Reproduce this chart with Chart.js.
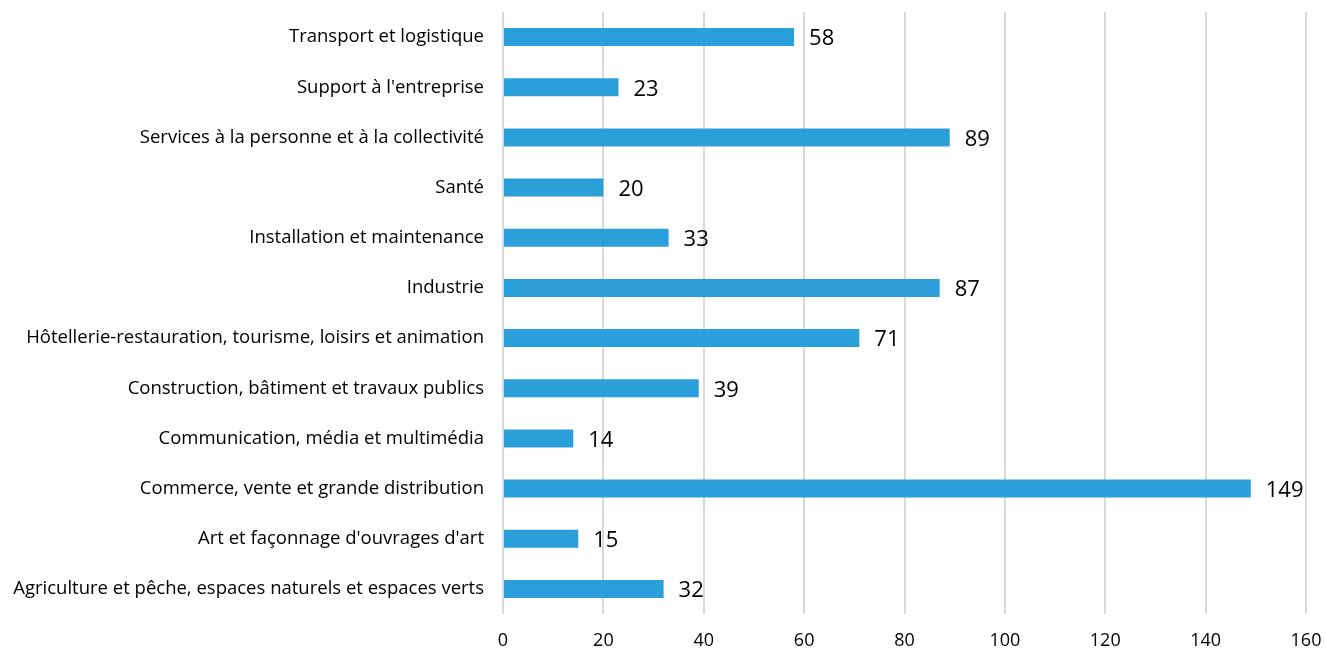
<!DOCTYPE html>
<html>
<head>
<meta charset="utf-8">
<script src="https://cdn.jsdelivr.net/npm/chart.js@4/dist/chart.umd.min.js"></script>
<style>
  html, body { margin: 0; padding: 0; background: #fff; }
  #wrap { width: 1326px; height: 650px; }
</style>
</head>
<body>
<div id="wrap"><canvas id="chart"></canvas></div>
<script>
// Categories, top to bottom as in the picture
const categories = [
    'Transport et logistique',
    "Support à l'entreprise",
    'Services à la personne et à la collectivité',
    'Santé',
    'Installation et maintenance',
    'Industrie',
    'Hôtellerie-restauration, tourisme, loisirs et animation',
    'Construction, bâtiment et travaux publics',
    'Communication, média et multimédia',
    'Commerce, vente et grande distribution',
    "Art et façonnage d'ouvrages d'art",
    'Agriculture et pêche, espaces naturels et espaces verts'
];
const values = [58, 23, 89, 20, 33, 87, 71, 39, 14, 149, 15, 32];
const xMin = 0;
const xMax = 160;
const xStep = 20;

const fontFamily = '"Open Sans", Lato, sans-serif';
const barColor = '#2B9FD9';

// pick a label size so the longest category is about as wide as in the picture
function fitSize(text, width) {
    const c = document.createElement('canvas').getContext('2d');
    c.font = '20px ' + fontFamily;
    const w = c.measureText(text).width;
    return Math.round(20 * width / w * 2) / 2;
}
const catSize = fitSize(categories[11], 474);

// Draw the value next to the end of each bar
const valueLabels = {
    id: 'valueLabels',
    afterDatasetsDraw(chart) {
        const ctx = chart.ctx;
        const meta = chart.getDatasetMeta(0);
        ctx.save();
        ctx.font = '22px ' + fontFamily;
        ctx.fillStyle = '#000';
        ctx.textAlign = 'left';
        ctx.textBaseline = 'middle';
        meta.data.forEach((bar, i) => {
            ctx.fillText(String(values[i]), bar.x + 15, bar.y + 2);
        });
        ctx.restore();
    }
};

const ctx = document.getElementById('chart').getContext('2d');
const chart = new Chart(ctx, {
    type: 'bar',
    data: {
        labels: categories,
        datasets: [{
            data: values,
            backgroundColor: barColor,
            borderWidth: 0,
            categoryPercentage: 1.0,
            barPercentage: 0.36
        }]
    },
    options: {
        indexAxis: 'y',
        responsive: true,
        maintainAspectRatio: false,
        animation: false,
        layout: {
            padding: { left: 0, right: 20, top: 12, bottom: 0 }
        },
        plugins: {
            legend: { display: false },
            tooltip: { enabled: false }
        },
        scales: {
            x: {
                min: xMin,
                max: xMax,
                ticks: {
                    stepSize: xStep,
                    color: '#000',
                    font: { family: fontFamily, size: 18 },
                    padding: 16
                },
                grid: {
                    color: '#d9d9d9',
                    lineWidth: 2,
                    drawTicks: false
                },
                border: { display: false },
                afterFit(scale) {
                    scale.height = 36;
                    scale.paddingLeft = 0;
                    scale.paddingRight = 0;
                }
            },
            y: {
                ticks: {
                    color: '#000',
                    font: { family: fontFamily, size: catSize },
                    padding: 19
                },
                grid: { display: false, drawTicks: false },
                border: { display: false },
                afterFit(scale) {
                    scale.width = 503;
                    scale.paddingTop = 0;
                    scale.paddingBottom = 0;
                }
            }
        }
    },
    plugins: [valueLabels]
});
</script>
</body>
</html>
